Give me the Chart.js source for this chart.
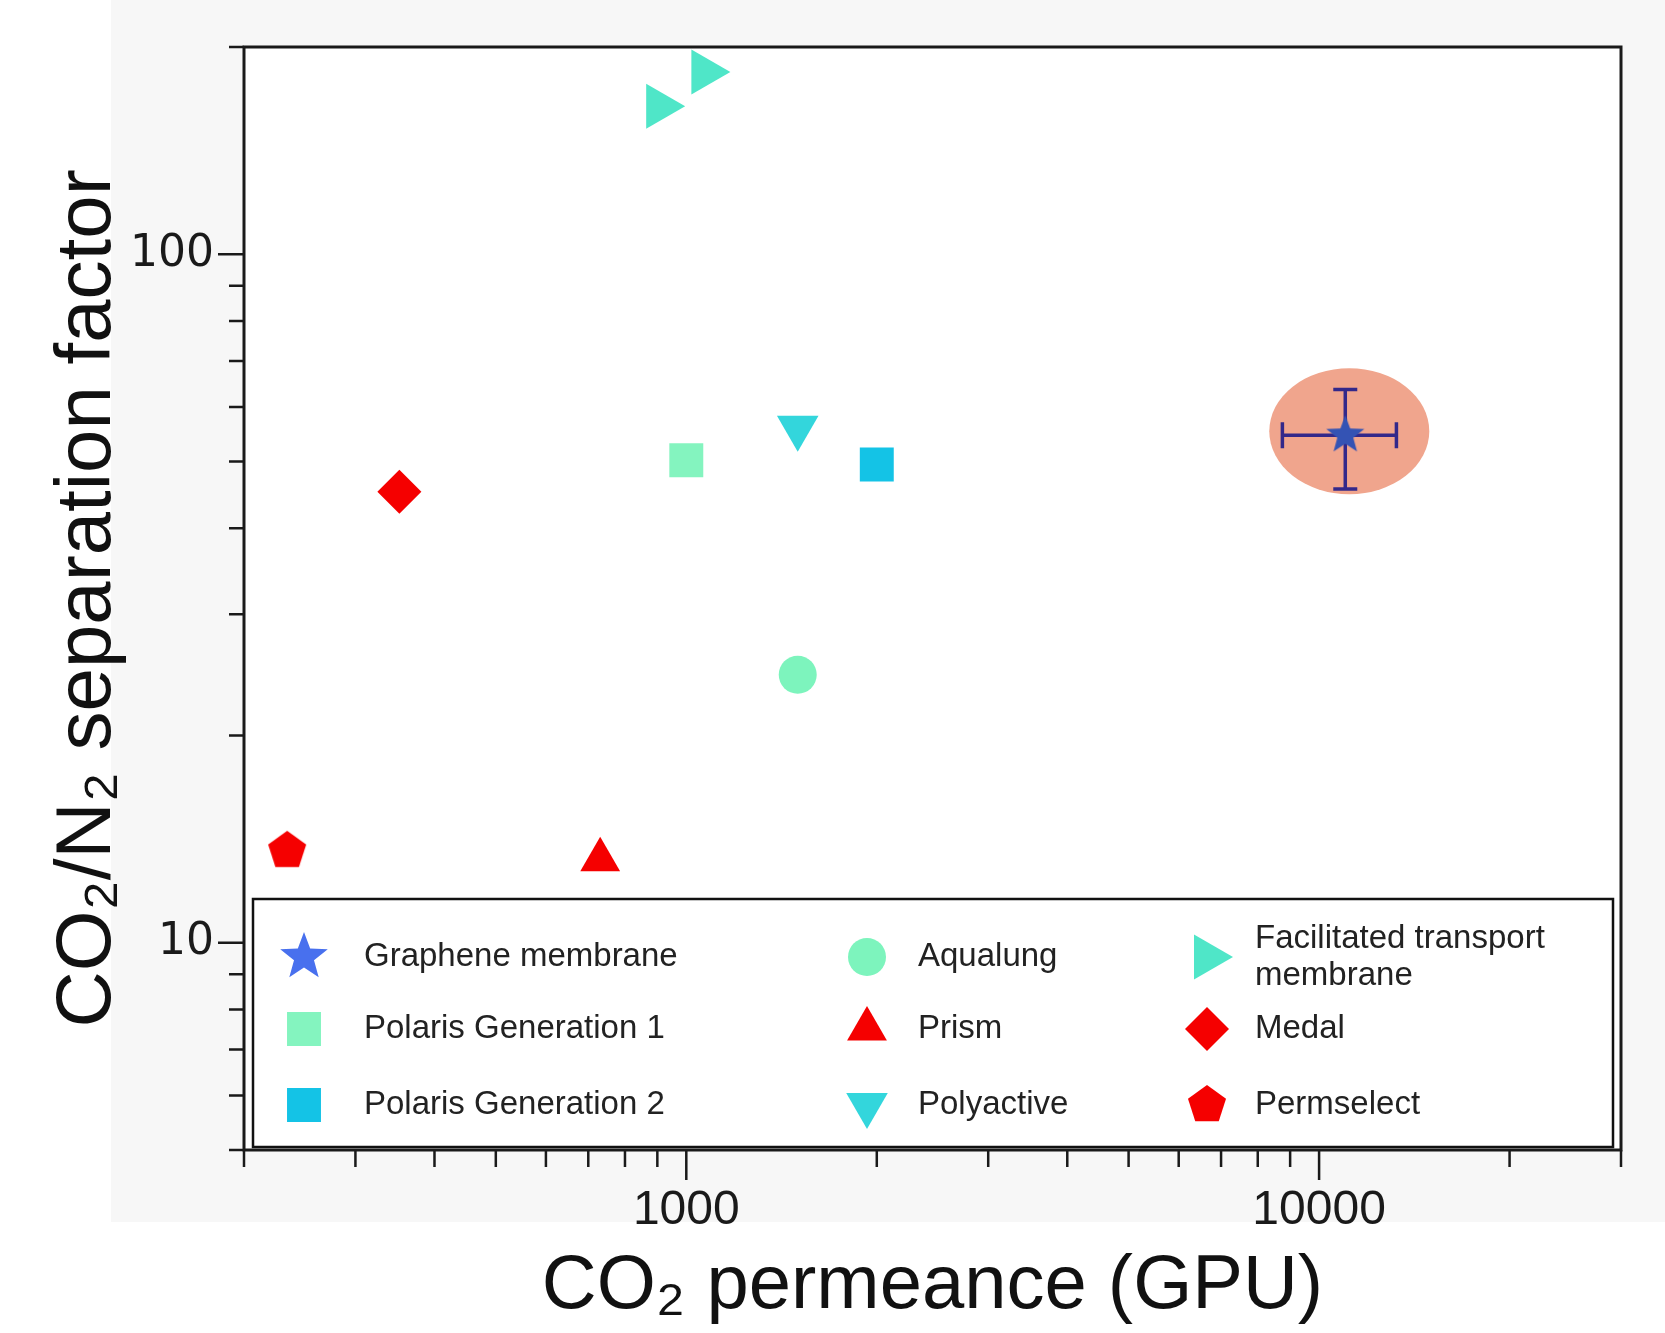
<!DOCTYPE html>
<html>
<head>
<meta charset="utf-8">
<script src="https://cdn.jsdelivr.net/npm/chart.js@4.4.1/dist/chart.umd.min.js"></script>
<style>
  html, body { margin: 0; padding: 0; background: #fff; }
</style>
</head>
<body>
<canvas id="myChart" width="1665" height="1333"></canvas>
<script>
// ---- data ----
var categories = ['Graphene membrane', 'Polaris Generation 1', 'Polaris Generation 2',
  'Aqualung', 'Prism', 'Polyactive', 'Facilitated transport\nmembrane', 'Medal', 'Permselect'];

var grapheneX = [11000],   grapheneY = [54.6];
var grapheneXErr = [2250], grapheneYErr = [9];
var polaris1X = [1000],    polaris1Y = [50.2];
var polaris2X = [2000],    polaris2Y = [49.5];
var aqualungX = [1500],    aqualungY = [24.5];
var prismX = [731],        prismY = [13.2];
var polyactiveX = [1500],  polyactiveY = [56];
var facilitatedX = [906, 1068], facilitatedY = [164, 184];
var medalX = [352],        medalY = [45.2];
var permselectX = [234],   permselectY = [13.6];

var xRange = [200, 30000];
var yRange = [5, 200];
var xMajorTicks = [1000, 10000];
var xMinorTicks = [200, 300, 400, 500, 600, 700, 800, 900, 2000, 3000, 4000, 5000, 6000, 7000, 8000, 9000, 20000, 30000];
var yMajorTicks = [10, 100];
var yMinorTicks = [5, 6, 7, 8, 9, 20, 30, 40, 50, 60, 70, 80, 90, 200];

// ---- marker images for shapes Chart.js lacks ----
function makePolygon(points, r, inner, color) {
    var size = Math.ceil(2 * r + 4);
    var c = document.createElement('canvas');
    c.width = size; c.height = size;
    var g = c.getContext('2d');
    var n = inner ? points * 2 : points;
    g.fillStyle = color;
    g.beginPath();
    for (var i = 0; i < n; i++) {
        var rr = (inner && i % 2) ? r * inner : r;
        var a = -Math.PI / 2 + i * 2 * Math.PI / n;
        var px = size / 2 + rr * Math.cos(a), py = size / 2 + rr * Math.sin(a);
        if (i === 0) g.moveTo(px, py); else g.lineTo(px, py);
    }
    g.closePath();
    g.fill();
    return c;
}

var starPlot = makePolygon(5, 20, 0.42, '#3453b4');
var starLegend = makePolygon(5, 25, 0.42, '#4870ee');
var pentagon = makePolygon(5, 20, 0, '#f50000');

function pts(xs, ys) {
    return xs.map(function(x, i) { return { x: x, y: ys[i] }; });
}

var seriesData = [pts(grapheneX, grapheneY), pts(polaris1X, polaris1Y), pts(polaris2X, polaris2Y),
    pts(aqualungX, aqualungY), pts(prismX, prismY), pts(polyactiveX, polyactiveY),
    pts(facilitatedX, facilitatedY), pts(medalX, medalY), pts(permselectX, permselectY)];

var seriesStyle = [
    { color: '#3453b4', style: starPlot, radius: 20, rot: 0, legendStyle: starLegend },
    { color: '#84f4bf', style: 'rect', radius: 24, rot: 0 },
    { color: '#14c3e6', style: 'rect', radius: 24, rot: 0 },
    { color: '#7df4bd', style: 'circle', radius: 19, rot: 0 },
    { color: '#f50000', style: 'triangle', radius: 23, rot: 0 },
    { color: '#33d6dc', style: 'triangle', radius: 24, rot: 180 },
    { color: '#4fe6c8', style: 'triangle', radius: 26, rot: 90 },
    { color: '#f50000', style: 'rectRot', radius: 22, rot: 0 },
    { color: '#f50000', style: pentagon, radius: 20, rot: 0 }
];

var datasets = categories.map(function(name, i) {
    var s = seriesStyle[i];
    return {
        label: name,
        data: seriesData[i],
        pointStyle: s.style,
        pointRadius: s.radius,
        pointHoverRadius: s.radius,
        pointRotation: s.rot,
        backgroundColor: s.color,
        borderColor: s.color,
        borderWidth: 0,
        clip: false
    };
});

var FONT = "'Liberation Sans', Arial, Helvetica, sans-serif";

function drawMarker(ctx, s, x, y) {
    var style = s.legendStyle || s.style;
    if (typeof style === 'object') {
        ctx.drawImage(style, x - style.width / 2, y - style.height / 2);
        return;
    }
    var r = s.radius, rad = s.rot * Math.PI / 180;
    ctx.fillStyle = s.color;
    ctx.beginPath();
    if (style === 'circle') {
        ctx.arc(x, y, r, 0, Math.PI * 2);
    } else if (style === 'rect') {
        var h = Math.SQRT1_2 * r;
        ctx.rect(x - h, y - h, 2 * h, 2 * h);
    } else if (style === 'rectRot') {
        ctx.moveTo(x, y - r); ctx.lineTo(x + r, y); ctx.lineTo(x, y + r); ctx.lineTo(x - r, y);
    } else if (style === 'triangle') {
        for (var k = 0; k < 3; k++) {
            var a = rad + k * 2 * Math.PI / 3;
            var px = x + Math.sin(a) * r, py = y - Math.cos(a) * r;
            if (k === 0) ctx.moveTo(px, py); else ctx.lineTo(px, py);
        }
    }
    ctx.closePath();
    ctx.fill();
}

var decorPlugin = {
    id: 'decor',
    beforeDraw: function(chart) {
        var ctx = chart.ctx, a = chart.chartArea;
        ctx.save();
        ctx.fillStyle = '#ffffff';
        ctx.fillRect(0, 0, chart.width, chart.height);
        ctx.fillStyle = '#f7f7f7';
        ctx.fillRect(111, 0, chart.width - 111, 1222);
        ctx.fillStyle = '#ffffff';
        ctx.fillRect(a.left, a.top, a.right - a.left, a.bottom - a.top);
        ctx.restore();
    },
    beforeDatasetsDraw: function(chart) {
        var ctx = chart.ctx, xs = chart.scales.x, ys = chart.scales.y;
        ctx.save();
        // highlight ellipse behind the graphene point
        grapheneX.forEach(function(gx, i) {
            var px = xs.getPixelForValue(gx), py = ys.getPixelForValue(grapheneY[i]);
            ctx.fillStyle = '#f0a58d';
            ctx.beginPath();
            ctx.ellipse(px + 4, py - 4, 80, 63, 0, 0, Math.PI * 2);
            ctx.fill();
            // error bars
            var x0 = xs.getPixelForValue(gx - grapheneXErr[i]);
            var x1 = xs.getPixelForValue(gx + grapheneXErr[i]);
            var y0 = ys.getPixelForValue(grapheneY[i] + grapheneYErr[i]);
            var y1 = ys.getPixelForValue(grapheneY[i] - grapheneYErr[i]);
            ctx.strokeStyle = '#33288a';
            ctx.lineWidth = 3.5;
            ctx.beginPath();
            ctx.moveTo(x0, py); ctx.lineTo(x1, py);
            ctx.moveTo(px, y0); ctx.lineTo(px, y1);
            ctx.moveTo(x0, py - 13); ctx.lineTo(x0, py + 13);
            ctx.moveTo(x1, py - 13); ctx.lineTo(x1, py + 13);
            ctx.moveTo(px - 12, y0); ctx.lineTo(px + 12, y0);
            ctx.moveTo(px - 12, y1); ctx.lineTo(px + 12, y1);
            ctx.stroke();
        });
        ctx.restore();
    },
    afterDraw: function(chart) {
        var ctx = chart.ctx, a = chart.chartArea, xs = chart.scales.x, ys = chart.scales.y;
        ctx.save();
        // legend box
        var lb = { left: 253, top: 899, right: 1613, bottom: 1147 };
        ctx.fillStyle = '#ffffff';
        ctx.fillRect(lb.left, lb.top, lb.right - lb.left, lb.bottom - lb.top);
        ctx.strokeStyle = '#111';
        ctx.lineWidth = 2.5;
        ctx.strokeRect(lb.left, lb.top, lb.right - lb.left, lb.bottom - lb.top);

        var colMarker = [304, 867, 1207], colText = [364, 918, 1255];
        var rows = [957, 1029, 1105];
        ctx.font = '33px ' + FONT;
        ctx.textBaseline = 'middle';
        ctx.textAlign = 'left';
        categories.forEach(function(name, i) {
            var c = Math.floor(i / 3), r = i % 3;
            drawMarker(ctx, seriesStyle[i], colMarker[c], rows[r]);
            var lines = name.split('\n');
            ctx.fillStyle = '#222';
            lines.forEach(function(line, k) {
                var ly = rows[r] + (k - (lines.length - 1) / 2) * 37;
                ctx.fillText(line, colText[c], ly);
            });
        });

        // frame
        ctx.strokeStyle = '#1a1a1a';
        ctx.lineWidth = 3;
        ctx.strokeRect(a.left, a.top, a.right - a.left, a.bottom - a.top);

        // ticks
        ctx.lineWidth = 2.5;
        ctx.beginPath();
        xMajorTicks.forEach(function(v) {
            var p = xs.getPixelForValue(v);
            ctx.moveTo(p, a.bottom); ctx.lineTo(p, a.bottom + 30);
        });
        xMinorTicks.forEach(function(v) {
            var p = xs.getPixelForValue(v);
            ctx.moveTo(p, a.bottom); ctx.lineTo(p, a.bottom + 17);
        });
        yMajorTicks.forEach(function(v) {
            var p = ys.getPixelForValue(v);
            ctx.moveTo(a.left, p); ctx.lineTo(a.left - 26, p);
        });
        yMinorTicks.forEach(function(v) {
            var p = ys.getPixelForValue(v);
            ctx.moveTo(a.left, p); ctx.lineTo(a.left - 15, p);
        });
        ctx.stroke();
        ctx.restore();
    }
};

var ctx = document.getElementById('myChart').getContext('2d');
var myChart = new Chart(ctx, {
    type: 'scatter',
    data: { datasets: datasets },
    options: {
        responsive: false,
        animation: false,
        events: [],
        layout: { padding: { left: 0, right: 44, top: 47, bottom: 0 } },
        plugins: {
            legend: { display: false },
            tooltip: { enabled: false }
        },
        scales: {
            x: {
                type: 'logarithmic',
                min: xRange[0],
                max: xRange[1],
                border: { display: false },
                grid: { display: false, drawTicks: true, tickLength: 30 },
                afterBuildTicks: function(scale) {
                    scale.ticks = xMajorTicks.map(function(v) { return { value: v }; });
                },
                afterFit: function(scale) { scale.height = 183; },
                ticks: {
                    padding: 2,
                    color: '#1a1a1a',
                    font: { family: FONT, size: 48 },
                    callback: function(v) { return String(v); }
                },
                title: {
                    display: true,
                    text: 'CO₂ permeance (GPU)',
                    color: '#111',
                    font: { family: FONT, size: 76, lineHeight: 1.2 },
                    padding: { top: 0, bottom: 0 }
                }
            },
            y: {
                type: 'logarithmic',
                min: yRange[0],
                max: yRange[1],
                border: { display: false },
                grid: { display: false, drawTicks: true, tickLength: 26 },
                afterBuildTicks: function(scale) {
                    scale.ticks = yMajorTicks.map(function(v) { return { value: v }; });
                },
                afterFit: function(scale) { scale.width = 244; },
                ticks: {
                    padding: 4,
                    color: '#1a1a1a',
                    font: { family: "'DejaVu Sans', Verdana, sans-serif", size: 44 },
                    callback: function(v) { return String(v); }
                },
                title: {
                    display: true,
                    text: 'CO₂/N₂ separation factor',
                    color: '#111',
                    font: { family: FONT, size: 78, lineHeight: 1.2 },
                    padding: { top: 42, bottom: 0 }
                }
            }
        }
    },
    plugins: [decorPlugin]
});
</script>
</body>
</html>
